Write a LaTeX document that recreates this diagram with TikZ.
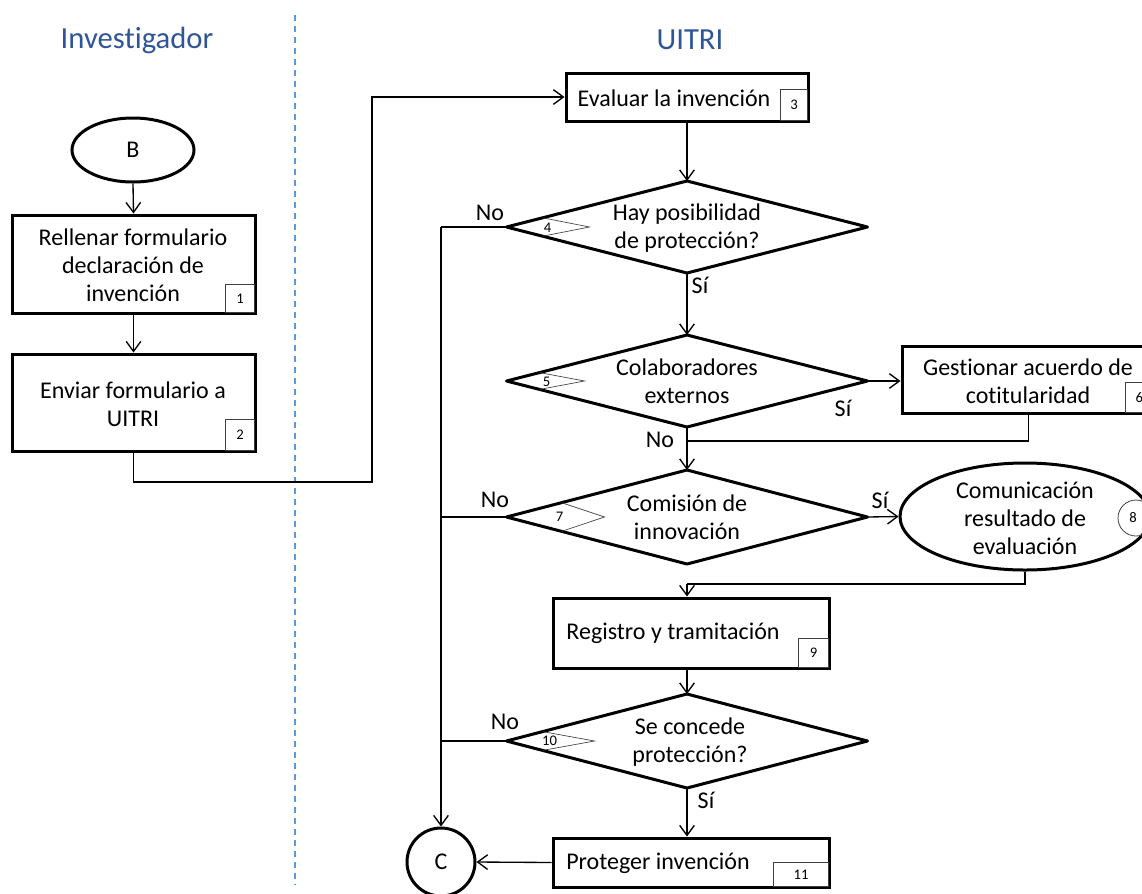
\documentclass[tikz,border=0pt]{standalone}
\usepackage{fontspec}
\setmainfont{Carlito}[Ligatures=NoCommon]
\usetikzlibrary{arrows.meta,shapes.geometric,calc}
\definecolor{headblue}{RGB}{47,85,151}
\definecolor{laneblue}{RGB}{91,155,213}
\begin{document}
\begin{tikzpicture}[x=0.75pt,y=-0.75pt,
  box/.style={draw, line width=2.25pt, rectangle, inner sep=0pt},
  dec/.style={draw, line width=2.25pt, diamond, inner sep=0pt, outer sep=0pt, line join=round, minimum width=270.75pt},
  oval/.style={draw, line width=2.25pt, ellipse, inner sep=0pt, font=\fontsize{18}{21}\selectfont},
  txt/.style={font=\fontsize{18}{21}\selectfont, align=center, inner sep=0pt},
  head/.style={font=\fontsize{23}{27}\selectfont, text=headblue, inner sep=0pt},
  numbox/.style={draw=black!75, line width=0.6pt, inner sep=0pt, font=\fontsize{11}{12}\selectfont},
  numtxt/.style={inner sep=0pt, font=\fontsize{11}{12}\selectfont},
  markline/.style={draw=black!75, line width=0.5pt},
  conn/.style={line width=1pt},
  arr/.style={conn, -{Straight Barb[length=7.5pt,width=11pt]}}
]
\useasboundingbox (0,0) rectangle (1142,893);
\clip (0,0) rectangle (1142,893);

% swimlane
\draw[laneblue, line width=1.1pt, dash pattern=on 4.5pt off 3.75pt] (295,15) -- (295,885);
\node[head] (hInv) at (137,40) {Investigador};
\node[head] (hUit) at (690,40) {UITRI};

% investigator column
\node[oval, minimum width=91.5pt, minimum height=48pt] (B) at (133,150) {B};
\node[box, minimum width=182.25pt, minimum height=73.5pt] (box1) at (133.5,264) {};
\node[txt] (t1) at (133,265) {Rellenar formulario\\declaración de\\invención};
\node[numbox, anchor=south east, minimum width=21.75pt, minimum height=21pt] (n1) at ([xshift=-1.125pt,yshift=1.125pt]box1.south east) {1};
\node[box, minimum width=182.25pt, minimum height=72.75pt] (box2) at (133.5,402.5) {};
\node[txt] (t2) at (133,404) {Enviar formulario a\\UITRI};
\node[numbox, anchor=south east, minimum width=21.75pt, minimum height=23.25pt] (n2) at ([xshift=-1.125pt,yshift=1.125pt]box2.south east) {2};

% UITRI column
\node[box, minimum width=181.5pt, minimum height=36pt] (box3) at (687,97) {};
\node[txt] (t3) at (674,98) {Evaluar la invención};
\node[numbox, anchor=south east, minimum width=20.25pt, minimum height=23.25pt] (n3) at ([xshift=-1.125pt,yshift=1.125pt]box3.south east) {3};

\node[dec, minimum height=69pt] (d4) at (687,227) {};
\node[txt] (t4) at (687,228) {Hay posibilidad\\de protección?};
\draw[markline] ($(d4.west)!0.2!(d4.north)$) -- ($(d4.west)+(83,0)$) -- ($(d4.west)!0.2!(d4.south)$);
\node[numtxt] (m4) at ($(d4.west)+(41,1)$) {4};

\node[dec, minimum height=69pt] (d5) at (687,381) {};
\node[txt] (t5) at (687,381) {Colaboradores\\externos};
\draw[markline] ($(d5.west)!0.183!(d5.north)$) -- ($(d5.west)+(78,0)$) -- ($(d5.west)!0.183!(d5.south)$);
\node[numtxt] (m5) at ($(d5.west)+(40,1)$) {5};

\node[box, minimum width=189.75pt, minimum height=50.25pt] (box6) at (1028.5,379.5) {};
\node[txt] (t6) at (1028,381) {Gestionar acuerdo de\\cotitularidad};
\node[numbox, anchor=south west, minimum width=21pt, minimum height=22.5pt] (n6) at ([yshift=1.125pt]box6.south -| 1125,0) {6};

\node[dec, minimum height=70.5pt] (d7) at (687,517) {};
\node[txt] (t7) at (687,517) {Comisión de\\innovación};
\draw[markline] ($(d7.west)!0.305!(d7.north)$) -- ($(d7.west)+(98,0)$) -- ($(d7.west)!0.305!(d7.south)$);
\node[numtxt] (m7) at ($(d7.west)+(53,0)$) {7};

\node[oval, minimum width=187.5pt, minimum height=80.25pt] (e8) at (1025,516.5) {};
\node[txt] (t8) at (1025,518.5) {Comunicación\\resultado de\\evaluación};
\node[numbox, circle, minimum size=27pt] (n8) at (1136,518) {};
\node[numtxt] (m8) at (1133,518) {8};

\node[box, minimum width=207pt, minimum height=52.5pt] (box9) at (691,633) {};
\node[txt] (t9) at (673,633) {Registro y tramitación};
\node[numbox, anchor=south east, minimum width=22.5pt, minimum height=21.75pt] (n9) at ([xshift=-1.125pt,yshift=1.125pt]box9.south east) {9};

\node[dec, minimum height=70.5pt] (d10) at (687,741) {};
\node[txt] (t10) at (690,742) {Se concede\\protección?};
\draw[markline] ($(d10.west)!0.2!(d10.north)$) -- ($(d10.west)+(88,0)$) -- ($(d10.west)!0.2!(d10.south)$);
\node[numtxt] (m10) at ($(d10.west)+(43,0)$) {10};

\node[box, minimum width=207pt, minimum height=36.75pt] (box11) at (691,862.5) {};
\node[txt] (t11) at (658,863) {Proteger invención};
\node[numbox, anchor=south east, minimum width=41.25pt, minimum height=18pt] (n11) at ([xshift=-1.125pt,yshift=1.125pt]box11.south east) {11};

\node[draw, circle, line width=2.25pt, minimum size=51pt, inner sep=0pt, font=\fontsize{18}{21}\selectfont] (C) at (441,862) {C};

% junction coordinates
\coordinate (j1) at (372,482);
\coordinate (jl) at (441,227);
\coordinate (j2) at (687,441);
\coordinate (j3) at (687,584);

% connectors
\draw[arr] (B.south) -- (box1.north);
\draw[arr] (box1.south) -- (box2.north);
\draw[arr] (box2.south) |- (j1) |- (box3.west);
\draw[arr] (box3.south -| d4.north) -- (d4.north);
\draw[conn] (d4.west) -- (jl);
\draw[arr] (jl) -- (C.north);
\draw[arr] (d4.south) -- (d5.north);
\draw[arr] (d5.east) -- (d5.east -| box6.west);
\draw[conn] (box6.south) |- (j2);
\draw[arr] (d5.south) -- (d7.north);
\draw[conn] (d7.west) -- (d7.west -| jl);
\draw[arr] (d7.east) -- (e8.west);
\draw[conn] (e8.south) |- (j3);
\draw[arr] (j3) -- (j3 |- box9.north);
\draw[arr] (box9.south -| d10.north) -- (d10.north);
\draw[conn] (d10.west) -- (d10.west -| jl);
\draw[arr] (d10.south) -- (d10.south |- box11.north);
\draw[arr] (box11.west) -- (C.east);

% branch labels
\node[txt] (l1) at (490,213) {No};
\node[txt] (l2) at (700,285) {Sí};
\node[txt] (l3) at (843,408) {Sí};
\node[txt] (l4) at (660,440) {No};
\node[txt] (l5) at (495,500) {No};
\node[txt] (l6) at (880,500) {Sí};
\node[txt] (l7) at (505,722) {No};
\node[txt] (l8) at (706,800) {Sí};
\end{tikzpicture}
\end{document}
